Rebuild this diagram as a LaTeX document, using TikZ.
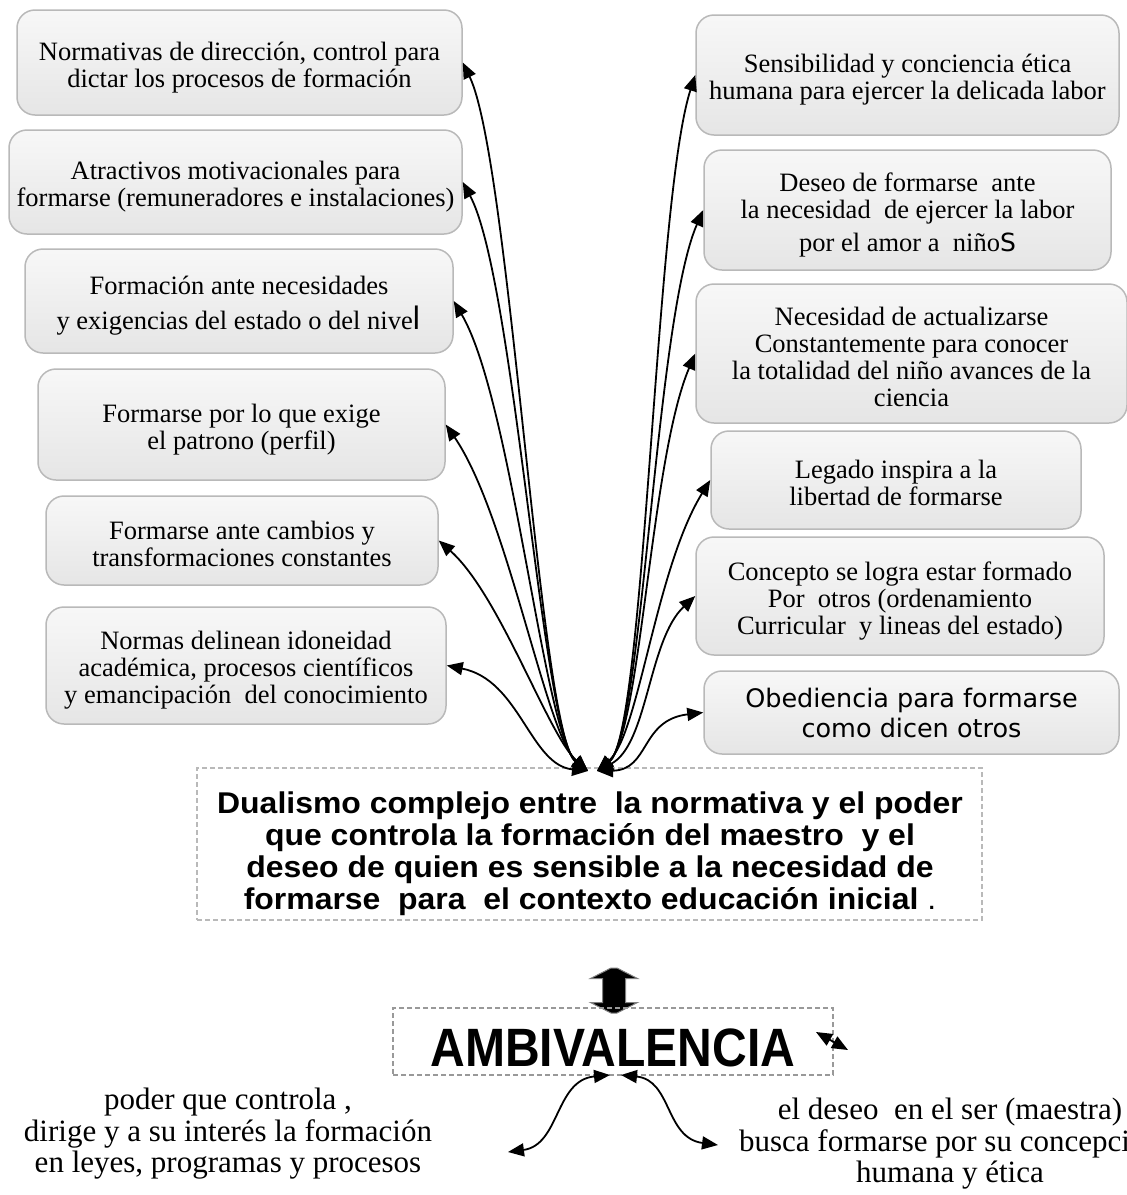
\documentclass[tikz,border=0pt]{standalone}
\usepackage{fontspec}
\usepackage{graphicx}
\setmainfont{Liberation Serif}
\setsansfont{Liberation Sans}
\newfontfamily\dejavu{DejaVu Sans}
\newfontfamily\dualfont[FakeStretch=1.065]{Liberation Sans}
\usetikzlibrary{arrows.meta}
\tikzstyle{map}=[>={Triangle[length=16pt,width=13pt]}]
\tikzstyle{box}=[draw=gray!55, line width=1.5pt, rounded corners=18pt, top color=black!3, middle color=white, bottom color=black!10, inner sep=0pt]
\tikzstyle{boxtext}=[align=center, inner sep=0pt, yshift=-5pt, font=\fontsize{26.5}{27}\selectfont]
\tikzstyle{link}=[<->, line width=1.8pt]
\tikzstyle{dashbox}=[draw=gray!55, dashed, dash pattern=on 5pt off 3pt, line width=1.2pt]
\tikzstyle{plain}=[align=center, font=\fontsize{31}{31.5}\selectfont]

\begin{document}
\begin{tikzpicture}[x=1pt, y=1pt, map]
  \useasboundingbox (0,0) rectangle (1127,-1195);
  % left column
  \node[box, minimum width=445pt, minimum height=105pt, label={[boxtext, name=normaT]center:{Normativas de dirección, control para\\dictar los procesos de formación}}] (norma) at (239.5,-62.5) {};
  \node[box, minimum width=453pt, minimum height=104pt, label={[boxtext, name=atractT]center:{Atractivos motivacionales para\\formarse (remuneradores e instalaciones)}}] (atract) at (235.5,-182) {};
  \node[box, minimum width=428pt, minimum height=104pt, label={[boxtext, name=formnecT]center:{Formación ante necesidades\\[8pt]y exigencias del estado o del nive{\dejavu\fontsize{31}{27}\selectfont l}}}] (formnec) at (239,-301) {};
  \node[box, minimum width=407pt, minimum height=111pt, label={[boxtext, name=patronT]center:{Formarse por lo que exige\\el patrono (perfil)}}] (patron) at (241.5,-424.5) {};
  \node[box, minimum width=392pt, minimum height=89pt, label={[boxtext, name=cambiosT, yshift=2pt]center:{Formarse ante cambios y\\transformaciones constantes}}] (cambios) at (242,-540.5) {};
  \node[box, minimum width=400pt, minimum height=117pt, label={[boxtext, name=idoneT]center:{Normas delinean idoneidad\\académica, procesos científicos\\y emancipación\ \ del conocimiento}}] (idone) at (246,-665.5) {};
  % right column
  \node[box, minimum width=423pt, minimum height=120pt, label={[boxtext, name=sensibT]center:{Sensibilidad y conciencia ética\\humana para ejercer la delicada labor}}] (sensib) at (907.5,-75) {};
  \node[box, minimum width=407pt, minimum height=120pt, label={[boxtext, name=deseoT]center:{Deseo de formarse\ \ ante\\la necesidad\ \ de ejercer la labor\\[6pt]por el amor a\ \ niño{\dejavu\fontsize{25}{27}\selectfont S}}}] (deseo) at (907.5,-210) {};
  \node[box, minimum width=431pt, minimum height=139pt, label={[boxtext, name=actualT, yshift=2pt]center:{Necesidad de actualizarse\\Constantemente para conocer\\la totalidad del niño avances de la\\ciencia}}] (actual) at (911.5,-353.5) {};
  \node[box, minimum width=370pt, minimum height=98pt, label={[boxtext, name=legadoT, yshift=2pt]center:{Legado inspira a la\\libertad de formarse}}] (legado) at (896,-480) {};
  \node[box, minimum width=408pt, minimum height=118pt, label={[boxtext, name=conceptoT]center:{Concepto se logra estar formado\\Por\ \ otros (ordenamiento\\Curricular\ \ y lineas del estado)}}] (concepto) at (900,-596) {};
  \node[box, minimum width=415pt, minimum height=83pt, label={[boxtext, name=obedT, yshift=5pt, font=\dejavu\fontsize{25.5}{30}\selectfont]center:{Obediencia para formarse\\como dicen otros}}] (obed) at (911.5,-712.5) {};
  % centre
  \node[dashbox, minimum width=785pt, minimum height=152pt] (dualbox) at (589.5,-844) {};
  \node[align=center, font=\dualfont\bfseries\fontsize{30}{32}\selectfont] (dualismo) at (590,-853.5) {Dualismo complejo entre\ \ la normativa y el poder\\que controla la formación del maestro\ \ y el\\deseo de quien es sensible a la necesidad de\\formarse\ \ para\ \ el contexto educación inicial {\mdseries .}};
  \coordinate (dblarr) at (614,-990.5);
  \filldraw[shift={(dblarr)}, fill=black, draw=gray, line width=1pt] (-3,22.5) -- (3,22.5) -- (23.5,12) -- (11.5,12) -- (11.5,-12) -- (23.5,-12) -- (3,-22.5) -- (-3,-22.5) -- (-23.5,-12) -- (-11.5,-12) -- (-11.5,12) -- (-23.5,12) -- cycle;
  \node[dashbox, draw=gray!80, minimum width=440pt, minimum height=67pt, inner sep=0pt, text height=51pt] (ambiv) at (613,-1041.5) {\scalebox{0.89}[1]{\sffamily\bfseries\fontsize{54}{54}\selectfont AMBIVALENCIA}};
  \node[plain] (poder) at (228,-1134) {poder que controla ,\\dirige y a su interés la formación\\en leyes, programas y procesos};
  \node[plain] (deseoser) at (950,-1144) {el deseo\ \ en el ser (maestra)\\busca formarse por su concepción\\humana y ética};
  % connectors
  \coordinate (lft) at (588,-771);
  \coordinate (rgt) at (597,-771);
  \draw[link] (lft) .. controls (540,-735) and (510,-160) .. (norma.east);
  \draw[link] (lft) .. controls (542,-735) and (515,-280) .. (atract.east);
  \draw[link] (lft) .. controls (544,-735) and (512,-400) .. (formnec.east);
  \draw[link] (lft) .. controls (546,-735) and (508,-515) .. (patron.east);
  \draw[link] (lft) .. controls (548,-735) and (500,-595) .. (cambios.east);
  \draw[link] (lft) .. controls (530,-765) and (520,-680) .. (idone.east);
  \draw[link] (rgt) .. controls (645,-735) and (655,-200) .. (sensib.west);
  \draw[link] (rgt) .. controls (643,-735) and (655,-320) .. (deseo.west);
  \draw[link] (rgt) .. controls (641,-735) and (650,-460) .. (actual.west);
  \draw[link] (rgt) .. controls (639,-735) and (655,-570) .. (legado.west);
  \draw[link] (rgt) .. controls (648,-745) and (648,-640) .. (concepto.west);
  \draw[link] (rgt) .. controls (650,-770) and (640,-720) .. (obed.west);
  % below the keyword
  \coordinate (ambL) at (610,-1075);
  \coordinate (ambR) at (621,-1075);
  \coordinate (endL) at (508,-1152);
  \coordinate (endR) at (718,-1145);
  \draw[link] (ambL) .. controls (555,-1080) and (560,-1145) .. (endL);
  \draw[link] (ambR) .. controls (672,-1080) and (665,-1138) .. (endR);
  \coordinate (bowA) at (816,-1032);
  \coordinate (bowB) at (848,-1050);
  \draw[link] (bowA) -- (bowB);
\end{tikzpicture}
\end{document}
